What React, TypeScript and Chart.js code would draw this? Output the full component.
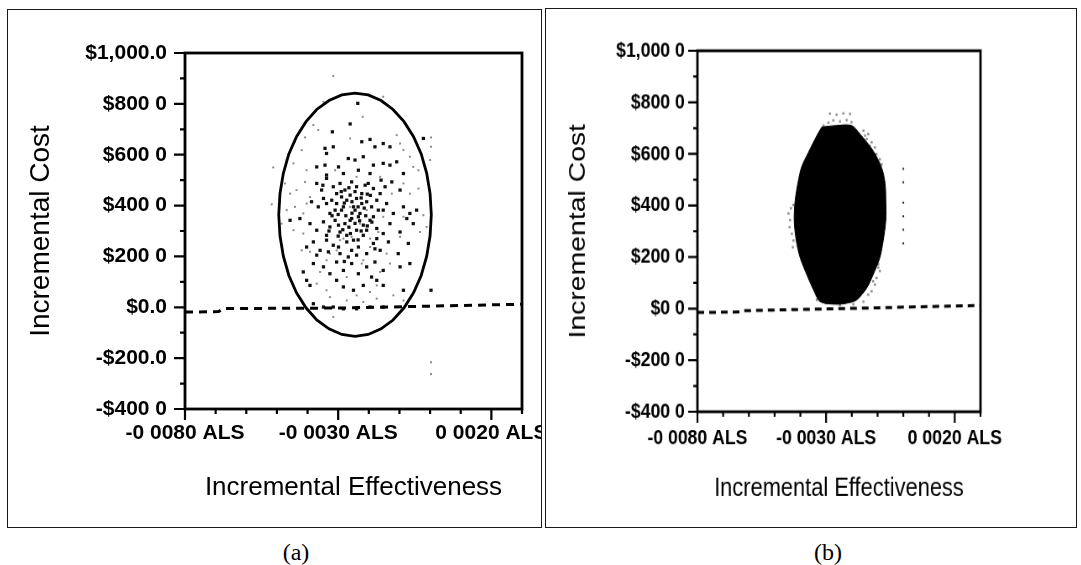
import { useEffect, useRef } from 'react';
import { Chart, registerables } from 'chart.js';

Chart.register(...registerables);

const FONT = "'Liberation Sans', Arial, Helvetica, sans-serif";
Chart.defaults.font.family = FONT;

type Pair = [number, number];

// Axis ticks and their printed labels (ascending order)
const costTicks = [-400, -200, 0, 200, 400, 600, 800, 1000];
const costLabelsA = ['-$400 0', '-$200.0', '$0.0', '$200 0', '$400 0', '$600 0', '$800 0', '$1,000.0'];
const costLabelsB = ['-$400 0', '-$200 0', '$0 0', '$200 0', '$400 0', '$600 0', '$800 0', '$1,000 0'];
const effectTicks = [-0.008, -0.003, 0.002];
const effectLabels = ['-0 0080 ALS', '-0 0030 ALS', '0 0020 ALS'];
const effectMin = -0.008;
const effectMax = 0.003;
const costMin = -400;
const costMax = 1000;

// (a) bootstrap replicates, dense (dark) and sparse (light) draws
const darkCloudA: Pair[] = [
  [-0.00236, 802], [-0.00261, 721], [-0.00319, 690], [-0.00022, 664], [-0.00343, 625], [-0.00316, 631],
  [-0.00338, 605], [-0.00196, 660], [-0.00153, 644], [-0.00131, 631], [-0.0018, 631], [-0.00223, 651],
  [-0.00267, 585], [-0.00245, 579], [-0.0037, 552], [-0.00343, 559], [-0.00299, 552], [-0.00218, 592],
  [-0.00185, 559], [-0.00153, 566], [-0.00131, 559], [-0.00109, 572], [-0.00087, 526], [-0.00338, 520],
  [-0.00283, 526], [-0.00234, 539], [-0.00196, 526],
  [-0.0037, 487], [-0.00354, 461], [-0.00338, 507], [-0.00316, 474], [-0.00294, 487], [-0.00278, 461],
  [-0.00256, 493], [-0.0024, 474], [-0.00223, 447], [-0.00202, 487], [-0.00185, 467], [-0.00163, 447],
  [-0.00147, 474], [-0.00125, 493], [-0.00098, 461], [-0.00305, 447], [-0.00261, 441],
  [-0.00387, 415], [-0.00365, 395], [-0.00348, 428], [-0.00327, 369], [-0.00305, 408], [-0.00289, 382],
  [-0.00272, 421], [-0.0025, 395], [-0.00229, 369], [-0.00207, 415], [-0.00191, 395], [-0.00169, 382],
  [-0.00142, 408], [-0.0012, 369], [-0.00087, 395], [-0.00066, 369], [-0.00044, 382], [-0.00321, 421],
  [-0.0024, 428],
  [-0.00457, 342], [-0.00425, 349], [-0.00392, 329], [-0.0037, 303], [-0.00348, 336], [-0.00327, 316],
  [-0.0031, 342], [-0.00294, 296], [-0.00278, 329], [-0.00256, 349], [-0.0024, 303], [-0.00218, 323],
  [-0.00196, 342], [-0.00174, 310], [-0.00153, 290], [-0.00131, 329], [-0.00098, 296], [-0.00076, 349],
  [-0.00055, 329], [-0.00338, 283], [-0.00218, 283],
  [-0.00403, 237], [-0.00381, 257], [-0.00359, 224], [-0.00338, 264], [-0.00316, 244], [-0.00294, 211],
  [-0.00272, 257], [-0.00256, 224], [-0.00234, 237], [-0.00207, 211], [-0.00185, 251], [-0.00163, 224],
  [-0.00136, 257], [-0.00104, 211], [-0.00071, 251], [-0.0037, 205], [-0.0024, 205],
  [-0.00381, 172], [-0.00348, 159], [-0.00327, 132], [-0.00305, 178], [-0.00283, 145], [-0.00256, 172],
  [-0.00234, 132], [-0.00207, 159], [-0.0018, 178], [-0.00153, 145], [-0.00098, 159], [-0.00066, 172],
  [-0.00414, 139], [-0.00191, 119],
  [-0.00403, 106], [-0.00392, 86], [-0.00305, 106], [-0.00283, 80], [-0.0025, 67], [-0.00218, 86],
  [-0.00174, 106], [-0.00153, 86], [-0.00087, 67],
  [-0.00348, 1], [-0.00316, 1], [-0.00283, -6], [-0.0024, -6], [-0.00196, 1], [-0.00153, 1],
  [-0.00381, 14], [0.00003, 67],
  [-0.00283, 395], [-0.00261, 342], [-0.00299, 323], [-0.00234, 356], [-0.00272, 283], [-0.00207, 303],
  [-0.00245, 382], [-0.00223, 408], [-0.0031, 382], [-0.00185, 356], [-0.00289, 434], [-0.00212, 480],
  [-0.00338, 408], [-0.00153, 382], [-0.00174, 421], [-0.00267, 198], [-0.00299, 237], [-0.00332, 218],
  [-0.00174, 270], [-0.0025, 264],
  [-0.0029, 455], [-0.00265, 470], [-0.00245, 455], [-0.00225, 430], [-0.00205, 445], [-0.0028, 410],
  [-0.00255, 415], [-0.00235, 395], [-0.00215, 390], [-0.003, 365], [-0.00275, 360], [-0.00255, 370],
  [-0.0023, 340], [-0.0021, 360], [-0.0019, 335], [-0.00285, 305], [-0.00265, 315], [-0.00245, 330],
  [-0.00225, 300], [-0.00205, 320], [-0.003, 280], [-0.0026, 290], [-0.00235, 265], [-0.0032, 360],
  [-0.00195, 440], [-0.0035, 480], [-0.0016, 500], [-0.0033, 300], [-0.0018, 230], [-0.0028, 180],
];

const lightCloudA: Pair[] = [
  [-0.00316, 910], [-0.00348, 808], [-0.00153, 828], [-0.0022, 749], [-0.00381, 717], [-0.00365, 697],
  [-0.00408, 668], [-0.00109, 677], [0.00003, 668], [-0.00441, 651], [-0.00419, 618], [-0.00087, 618],
  [-0.00066, 592], [-0.00261, 664], [-0.00098, 644], [0.00003, 631],
  [-0.00468, 579], [-0.00446, 566], [-0.00403, 539], [-0.00512, 550], [-0.00055, 552], [-0.00038, 539],
  [0.0, 579],
  [-0.00474, 487], [-0.00457, 447], [-0.00436, 461], [-0.00408, 493], [-0.00392, 434], [-0.00087, 487],
  [-0.00066, 447], [-0.00038, 467], [-0.00006, 487], [0.00003, 415],
  [-0.00517, 405], [-0.0049, 415], [-0.00468, 382], [-0.00441, 395], [-0.00414, 369], [-0.00403, 408],
  [-0.00153, 356], [-0.00022, 362],
  [-0.00485, 329], [-0.00446, 303], [-0.00414, 290], [-0.00033, 296], [-0.00011, 316],
  [-0.00419, 224], [-0.00392, 218], [-0.00305, 224], [-0.00283, 270], [-0.00196, 270], [-0.00142, 211],
  [-0.00098, 277],
  [-0.00359, 139], [-0.00338, 185], [-0.00272, 119], [-0.00218, 185], [-0.00163, 139], [-0.00131, 172],
  [-0.0037, 93], [-0.00338, 67], [-0.00327, 40], [-0.0024, 47], [-0.00196, 60], [-0.0012, 47],
  [-0.00272, 27], [-0.00218, 21], [-0.00174, 34], [-0.00087, 27], [-0.00316, -38], [0.00003, -216],
  [0.00003, -262],
  [-0.00261, 395], [-0.00229, 329], [-0.00196, 237], [-0.00294, 264], [-0.00256, 277], [-0.00207, 382],
  [-0.00169, 296], [-0.00327, 211], [-0.00163, 513], [-0.0024, 513], [-0.0031, 539], [-0.00125, 447],
  [-0.00087, 356], [-0.00223, 172], [-0.00174, 86],
];

// (a) 95% confidence ellipse outline
const ellipseA: Pair[] = [
  [0.00004, 364], [0.0, 447], [-0.00011, 527], [-0.00029, 603], [-0.00054, 671], [-0.00085, 730],
  [-0.00121, 778], [-0.0016, 813], [-0.00202, 835], [-0.00245, 842], [-0.00288, 835], [-0.0033, 813],
  [-0.0037, 778], [-0.00405, 730], [-0.00436, 671], [-0.00461, 603], [-0.00479, 527], [-0.0049, 447],
  [-0.00494, 364], [-0.0049, 281], [-0.00479, 201], [-0.00461, 125], [-0.00436, 57], [-0.00405, -2],
  [-0.0037, -50], [-0.0033, -85], [-0.00288, -107], [-0.00245, -114], [-0.00202, -107], [-0.0016, -85],
  [-0.00121, -50], [-0.00085, -2], [-0.00054, 57], [-0.00029, 125], [-0.00011, 201], [0.0, 281],
  [0.00004, 364],
];

// Dashed reference lines
const thresholdA: Pair[] = [[-0.008, -19], [-0.0069, -17], [-0.00675, -5], [-0.003, -3], [0.003, 12]];
const thresholdB: Pair[] = [[-0.008, -15], [-0.00635, -13], [-0.0062, -8], [-0.003, -1], [0.003, 12]];

// (b) solid region of overlapping replicates
const blobOutlineB: Pair[] = [
  [-0.00317, 704], [-0.00259, 710], [-0.00201, 710], [-0.00168, 677], [-0.00117, 612], [-0.00084, 546],
  [-0.00071, 487], [-0.00068, 421], [-0.00068, 343], [-0.00078, 264], [-0.00091, 198], [-0.00117, 132],
  [-0.00142, 80], [-0.00181, 34], [-0.0022, 21], [-0.00259, 17], [-0.00323, 27], [-0.00349, 73],
  [-0.00375, 132], [-0.00401, 198], [-0.00416, 264], [-0.00424, 343], [-0.0042, 421], [-0.00409, 490],
  [-0.00395, 550], [-0.00369, 605], [-0.00336, 671], [-0.00317, 704],
];

// (b) sparse replicates on the edge of the region
const fringeB: Pair[] = [
  [-0.00285, 756], [-0.00259, 752], [-0.00233, 757], [-0.00207, 755], [-0.00272, 730], [-0.00246, 726],
  [-0.0022, 731], [-0.00201, 723], [-0.00291, 721], [-0.0031, 710],
  [-0.00155, 690], [-0.00136, 677], [-0.00142, 658], [-0.00123, 645], [-0.0011, 625], [-0.00104, 599],
  [-0.00091, 579], [-0.00084, 559], [-0.0013, 631], [-0.00149, 671],
  [-0.00446, 369], [-0.0044, 343], [-0.00442, 316], [-0.00433, 290], [-0.00427, 264], [-0.00429, 238],
  [-0.00437, 389], [-0.00427, 402],
  [-0.00097, 172], [-0.00091, 146], [-0.00104, 119], [-0.0011, 93], [-0.00123, 67], [-0.00136, 54],
  [-0.00117, 106], [-0.00097, 159],
  [-0.00336, 34], [-0.00298, 21], [-0.00246, 14], [-0.00194, 17], [-0.00155, 27],
];

const columnB: Pair[] = [[0.0, 542], [0.0, 490], [0.0, 411], [0.0, 358], [0.0, 306], [0.0, 253]];

const toPoints = (pairs: Pair[]) => pairs.map(([x, y]) => ({ x, y }));

// Plot box plus long (labelled) and short (minor) tick marks
const axisFrame = {
  id: 'axisFrame',
  afterDatasetsDraw(chart: any) {
    const { ctx, chartArea: a, scales } = chart;
    const xs = scales.x;
    const ys = scales.y;
    ctx.save();
    ctx.strokeStyle = '#000';
    ctx.lineWidth = 2.8;
    ctx.strokeRect(a.left, a.top, a.right - a.left, a.bottom - a.top);
    ctx.beginPath();
    ctx.lineWidth = 2.2;
    for (let i = 0; i <= 14; i++) {
      const p = ys.getPixelForValue(costMin + i * 100);
      const len = i % 2 === 0 ? 11 : 5;
      ctx.moveTo(a.left - len, p);
      ctx.lineTo(a.left, p);
    }
    for (let i = 0; i <= 11; i++) {
      const p = xs.getPixelForValue((-8 + i) / 1000);
      const len = i % 5 === 0 ? 11 : 5;
      ctx.moveTo(p, a.bottom);
      ctx.lineTo(p, a.bottom + len);
    }
    ctx.stroke();
    ctx.restore();
  },
};

interface Tuning {
  costLabels: string[];
  yPad: number;
  xPad: number;
  yTitlePad: number;
  xTitlePad: number;
}

function buildOptions(t: Tuning): any {
  return {
    animation: false,
    responsive: false,
    maintainAspectRatio: false,
    events: [],
    layout: { padding: { left: 0, right: 78, top: 53, bottom: 0 } },
    plugins: { legend: { display: false }, tooltip: { enabled: false } },
    scales: {
      x: {
        type: 'linear',
        min: effectMin,
        max: effectMax,
        afterBuildTicks: (s: any) => {
          s.ticks = effectTicks.map((value) => ({ value }));
        },
        afterFit: (s: any) => {
          s.height = 116;
          s.paddingLeft = 0;
          s.paddingRight = 0;
        },
        grid: { display: false, drawTicks: true, tickLength: 11 },
        border: { display: false },
        ticks: {
          autoSkip: false,
          maxRotation: 0,
          minRotation: 0,
          padding: t.xPad,
          color: '#000',
          font: { family: FONT, size: 21, weight: 'bold' },
          callback: (_v: any, i: number) => effectLabels[i],
        },
        title: {
          display: true,
          text: 'Incremental Effectiveness',
          color: '#000',
          font: { family: FONT, size: 26 },
          padding: { top: 0, bottom: t.xTitlePad },
        },
      },
      y: {
        type: 'linear',
        min: costMin,
        max: costMax,
        afterBuildTicks: (s: any) => {
          s.ticks = costTicks.map((value) => ({ value }));
        },
        afterFit: (s: any) => {
          s.width = 185;
        },
        grid: { display: false, drawTicks: true, tickLength: 11 },
        border: { display: false },
        ticks: {
          autoSkip: false,
          padding: t.yPad,
          color: '#000',
          font: { family: FONT, size: 21, weight: 'bold' },
          callback: (_v: any, i: number) => t.costLabels[i],
        },
        title: {
          display: true,
          text: 'Incremental Cost',
          color: '#000',
          font: { family: FONT, size: 28 },
          padding: { top: t.yTitlePad, bottom: 0 },
        },
      },
    },
  };
}

function datasetsA(): any[] {
  return [
    {
      data: toPoints(ellipseA), showLine: true, borderColor: '#000', borderWidth: 2.8,
      pointRadius: 0, tension: 0, fill: false, order: 0,
    },
    {
      data: toPoints(thresholdA), showLine: true, borderColor: '#000', borderWidth: 3,
      borderDash: [8, 6], pointRadius: 0, fill: false, order: 1,
    },
    {
      data: toPoints(darkCloudA), pointStyle: 'rect', pointRadius: 2.3, borderWidth: 0,
      backgroundColor: '#111', order: 2,
    },
    {
      data: toPoints(lightCloudA), pointStyle: 'rect', pointRadius: 1.4, borderWidth: 0,
      backgroundColor: '#8c8c8c', order: 3,
    },
  ];
}

function datasetsB(): any[] {
  return [
    {
      data: toPoints(thresholdB), showLine: true, borderColor: '#000', borderWidth: 3,
      borderDash: [8, 6], pointRadius: 0, fill: false, order: 0,
    },
    {
      data: toPoints(columnB), pointStyle: 'rect', pointRadius: 1.4, borderWidth: 0,
      backgroundColor: '#222', order: 1,
    },
    {
      data: toPoints(blobOutlineB), showLine: true, borderColor: '#000', borderWidth: 1,
      backgroundColor: '#000', fill: 'shape', pointRadius: 0, tension: 0.3, order: 2,
    },
    {
      data: toPoints(fringeB), pointStyle: 'rect', pointRadius: 1.7, borderWidth: 0,
      backgroundColor: '#8c8c8c', order: 3,
    },
  ];
}

function PanelChart({ makeData, tuning }: { makeData: () => any[]; tuning: Tuning }) {
  const ref = useRef<HTMLCanvasElement>(null);
  useEffect(() => {
    const chart = new Chart(ref.current as HTMLCanvasElement, {
      type: 'scatter',
      data: { datasets: makeData() },
      options: buildOptions(tuning),
      plugins: [axisFrame],
    } as any);
    return () => chart.destroy();
  }, []);
  return <canvas ref={ref} width={600} height={525} style={{ width: 600, height: 525, display: 'block' }} />;
}

const frame = (left: number, top: number, width: number, height: number): any => ({
  position: 'absolute', left, top, width, height, border: '1.6px solid #1a1a1a', boxSizing: 'border-box',
});

const caption = (cx: number): any => ({
  position: 'absolute', left: cx - 40, width: 80, top: 539, lineHeight: '26px', textAlign: 'center',
  fontFamily: "'Liberation Serif', 'Times New Roman', serif", fontSize: 24, color: '#000',
});

export default function App() {
  return (
    <div style={{ position: 'fixed', left: 0, top: 0, width: 1081, height: 565, background: '#fff', overflow: 'hidden' }}>
      <div style={frame(7, 9, 535, 519)} />
      <div style={frame(545, 8, 532, 520)} />
      <div style={{ position: 'absolute', left: 0, top: 0, width: 541, height: 525, overflow: 'hidden' }}>
        <PanelChart makeData={datasetsA} tuning={{ costLabels: costLabelsA, yPad: 7, xPad: 1, yTitlePad: 24, xTitlePad: 22 }} />
      </div>
      <div style={{ position: 'absolute', left: 541.6, top: -3.2, transform: 'scale(0.84, 1.014)', transformOrigin: '0 0' }}>
        <PanelChart makeData={datasetsB} tuning={{ costLabels: costLabelsB, yPad: 4, xPad: 3, yTitlePad: 26, xTitlePad: 25 }} />
      </div>
      <div style={caption(296)}>(a)</div>
      <div style={caption(828)}>(b)</div>
    </div>
  );
}
